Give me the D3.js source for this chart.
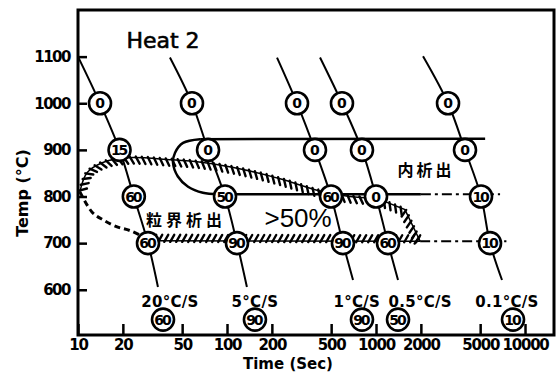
<!DOCTYPE html>
<html><head><meta charset="utf-8">
<script src="https://cdn.jsdelivr.net/npm/d3@7"></script>
<style>body{margin:0;background:#fff}svg{display:block}</style>
</head><body>
<svg id="chart" width="559" height="383"></svg>
<script>
// cooling curves, [time s, temp °C]
const rateLabels = ["20°C/S", "5°C/S", "1°C/S", "0.5°C/S", "0.1°C/S"];
const curve20 = [[10, 1100], [14.05, 1000], [19, 900], [23.7, 800], [29.5, 700], [34.4, 606]];
const curve5 = [[41.4, 1098], [58.2, 1000], [74.6, 900], [97, 800], [116.7, 700], [136, 606]];
const curve1 = [[216.6, 1098], [295, 1000], [389.5, 900], [499, 800], [600, 700], [701, 621]];
const curve05 = [[421, 1098], [591, 1000], [805, 900], [1000, 800], [1204, 700], [1405, 621]];
const curve01 = [[2068, 1101], [3043, 1000], [3956, 900], [5067, 800], [5822, 700], [7007, 621]];
const curves = [curve20, curve5, curve1, curve05, curve01];

// precipitated % at 1000, 900, 800, 700 °C
const pct20 = ["0", "15", "60", "60"];
const pct5 = ["0", "0", "50", "90"];
const pct1 = ["0", "0", "60", "90"];
const pct05 = ["0", "0", "0", "60"];
const pct01 = ["0", "0", "10", "10"];
const pcts = [pct20, pct5, pct1, pct05, pct01];
const finalPct = ["60", "90", "90", "50", "10"];
const rateLabelTime = [41.4, 154, 743, 1978, 7568];
const finalTime = [37.2, 154, 805, 1405, 8306];
const rateLabelTemp = 574, finalTemp = 536;

// precipitation region boundaries
const intraTop = [[5400, 924], [66, 923]];
const intraNose = [[66, 923], [50.7, 915], [44.8, 894], [43.4, 873], [46.8, 843], [54.8, 821], [68.9, 808], [86.9, 805]];
const intraBottom = [[86.9, 805], [2000, 805]];
const intraTail = [[2000, 805], [6800, 805]];
const gbTop = [[10.3, 810], [11.5, 851], [14.7, 873], [21.3, 883], [41.4, 879], [68.9, 873], [128, 858], [227, 838], [441, 810], [666, 800], [1015, 796]];
const gbWedge = [[1015, 796], [1564, 772], [1978, 704]];
const gbBottomDashed = [[10.3, 810], [12.4, 767], [14.7, 750], [18.3, 735], [22.3, 727], [28.1, 712], [31, 705]];
const gbBottom = [[31, 705], [1978, 704]];
const gbTail = [[1978, 704], [7500, 704]];

const xTicks = [10, 20, 50, 100, 200, 500, 1000, 2000, 5000, 10000];
const yTicks = [600, 700, 800, 900, 1000, 1100];

const svg = d3.select("#chart");
const x = d3.scaleLog().domain([10, 15650]).range([78, 554]);
const y = d3.scaleLinear().domain([503, 1200]).range([335, 10]);
const tickFont = "'DejaVu Sans', sans-serif";

// axes
svg.append("g").attr("transform", "translate(0,335)")
  .call(d3.axisBottom(x).tickValues(xTicks).tickFormat(d3.format("d")).tickSize(-11).tickPadding(4))
  .call(g => g.select(".domain").remove())
  .call(g => g.selectAll("line").attr("stroke", "#000").attr("stroke-width", 2.5))
  .call(g => g.selectAll("text").attr("fill", "#000").style("font", `bold 15px ${tickFont}`).style("letter-spacing", "-1.2px"));
svg.append("g").attr("transform", "translate(78,0)")
  .call(d3.axisLeft(y).tickValues(yTicks).tickFormat(d3.format("d")).tickSize(-9).tickPadding(8))
  .call(g => g.select(".domain").remove())
  .call(g => g.selectAll("line").attr("stroke", "#000").attr("stroke-width", 2.5))
  .call(g => g.selectAll("text").attr("fill", "#000").style("font", `bold 15px ${tickFont}`).style("letter-spacing", "-1.5px"));

svg.append("rect").attr("x", 78).attr("y", 10).attr("width", 476).attr("height", 325)
  .attr("fill", "none").attr("stroke", "#000").attr("stroke-width", 3);

svg.append("text").attr("x", 288).attr("y", 369).attr("text-anchor", "middle")
  .style("font", `bold 15px ${tickFont}`).text("Time (Sec)");
svg.append("text").attr("transform", "translate(28,193) rotate(-90)").attr("text-anchor", "middle")
  .style("font", `bold 16px ${tickFont}`).text("Temp (°C)");

const line = d3.line().x(d => x(d[0])).y(d => y(d[1]));
const smooth = d3.curveCatmullRom.alpha(0.5);

function plain(pts, curve, width, dash) {
  svg.append("path").attr("d", line.curve(curve)(pts))
    .attr("fill", "none").attr("stroke", "#000").attr("stroke-width", width)
    .attr("stroke-dasharray", dash || null);
}

// grain boundary precipitation (hatched)
function hatched(pts, side, curve) {
  const p = svg.append("path").attr("d", line.curve(curve)(pts))
    .attr("fill", "none").attr("stroke", "#000").attr("stroke-width", 1.5);
  const node = p.node(), L = node.getTotalLength();
  for (let s = 2; s < L - 1; s += 6) {
    const a = node.getPointAtLength(s), b = node.getPointAtLength(s + 1);
    const tx = b.x - a.x, ty = b.y - a.y, n = Math.hypot(tx, ty) || 1;
    const ux = tx / n, uy = ty / n, nx = -uy * side, ny = ux * side;
    svg.append("line")
      .attr("x1", a.x - nx - ux).attr("y1", a.y - ny - uy)
      .attr("x2", a.x + nx * 6 + ux * 3).attr("y2", a.y + ny * 6 + uy * 3)
      .attr("stroke", "#000").attr("stroke-width", 2.4).attr("stroke-linecap", "round");
  }
}
hatched(gbTop, 1, smooth);
hatched(gbWedge, 1, d3.curveLinear);
hatched(gbBottom, -1, d3.curveLinear);
plain(gbBottomDashed, smooth, 3, "6,4");
plain(gbTail, d3.curveLinear, 2, "10,4,3,4");

// intragranular precipitation
plain(intraTop, d3.curveLinear, 2.5);
plain(intraNose, smooth, 2.5);
plain(intraBottom, d3.curveLinear, 2.5);
plain(intraTail, d3.curveLinear, 2, "10,4,3,4");

// cooling curves
curves.forEach(c => plain(c, smooth, 2));

function badge(t, T, label) {
  const g = svg.append("g").attr("transform", `translate(${x(t)},${y(T)})`);
  g.append("circle").attr("r", 11).attr("fill", "#fff").attr("stroke", "#000").attr("stroke-width", 2.6);
  g.append("text").attr("text-anchor", "middle").attr("dy", "0.36em")
    .style("font", `bold 14px ${tickFont}`).style("letter-spacing", label.length > 1 ? "-2.2px" : "0")
    .attr("dx", label.length > 1 ? -1.1 : 0)
    .text(label);
}
curves.forEach((c, i) => {
  pcts[i].forEach((p, j) => badge(c[j + 1][0], c[j + 1][1], p));
  svg.append("text").attr("x", x(rateLabelTime[i])).attr("y", y(rateLabelTemp)).attr("dy", "0.35em")
    .attr("text-anchor", "middle").style("font", `bold 15px ${tickFont}`).style("letter-spacing", "0.3px")
    .text(rateLabels[i]);
  badge(finalTime[i], finalTemp, finalPct[i]);
});

// annotations
svg.append("text").attr("x", x(37.2)).attr("y", y(1136)).attr("dy", "0.35em").attr("text-anchor", "middle")
  .style("font", `22px ${tickFont}`).attr("stroke", "#000").attr("stroke-width", 0.6).text("Heat 2");
svg.append("text").attr("x", x(53)).attr("y", y(750)).attr("dy", "0.38em").attr("text-anchor", "middle")
  .style("font", "bold 16px 'Noto Sans CJK JP'").style("letter-spacing", "4px").text("粒界析出");
svg.append("text").attr("x", x(2165)).attr("y", y(857)).attr("dy", "0.38em").attr("text-anchor", "middle")
  .style("font", "bold 16px 'Noto Sans CJK JP'").style("letter-spacing", "3px").text("内析出");
svg.append("text").attr("x", x(300)).attr("y", y(754)).attr("dy", "0.36em").attr("text-anchor", "middle")
  .style("font", "26px 'Liberation Sans'").text(">50%");
</script>
</body></html>
